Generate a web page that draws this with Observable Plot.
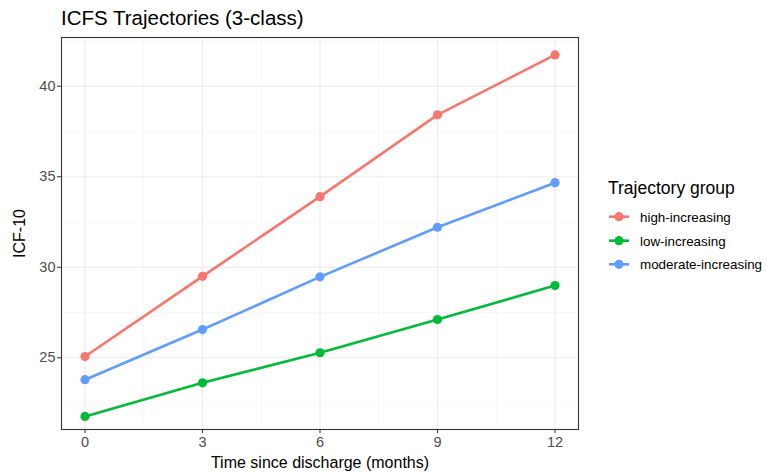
<!DOCTYPE html>
<html><head><meta charset="utf-8">
<script src="https://cdn.jsdelivr.net/npm/d3@7"></script>
<script src="https://cdn.jsdelivr.net/npm/@observablehq/plot@0.6"></script>
<style>
body{margin:0;background:#fff;font-family:"Liberation Sans",Arial,sans-serif;}
#wrap{position:relative;width:766px;height:473px;overflow:hidden;}
#title{position:absolute;left:61px;top:8px;font-size:20.5px;line-height:1;color:#000;white-space:nowrap;}
#legend{position:absolute;left:600px;top:170px;}
</style></head>
<body><div id="wrap"><div id="title">ICFS Trajectories (3-class)</div></div>
<script>
const months = [0, 3, 6, 9, 12];
const groups = ["high-increasing", "low-increasing", "moderate-increasing"];
const colors = ["#F8766D", "#00BA38", "#619CFF"];
const highIncreasing = [25.07, 29.50, 33.90, 38.42, 41.73];
const lowIncreasing = [21.76, 23.62, 25.28, 27.11, 28.99];
const moderateIncreasing = [23.79, 26.56, 29.47, 32.21, 34.67];
const xTicks = [0, 3, 6, 9, 12];
const yTicks = [25, 30, 35, 40];
const xMinor = [1.5, 4.5, 7.5, 10.5];
const yMinor = [22.5, 27.5, 32.5, 37.5, 42.5];

const series = [highIncreasing, lowIncreasing, moderateIncreasing];
const data = [];
groups.forEach((g, i) => months.forEach((m, j) => data.push({group: g, month: m, value: series[i][j]})));

const plot = Plot.plot({
  width: 766, height: 473,
  marginLeft: 61, marginRight: 188, marginTop: 37, marginBottom: 44,
  style: {fontFamily: '"Liberation Sans",Arial,sans-serif', background: "#fff"},
  x: {domain: [-0.6, 12.6], label: null},
  y: {domain: [21.04, 42.69], label: null},
  color: {domain: groups, range: colors},
  marks: [
    Plot.ruleX(xMinor, {stroke: "#F2F2F2", strokeWidth: 0.6}),
    Plot.ruleY(yMinor, {stroke: "#F2F2F2", strokeWidth: 0.6}),
    Plot.ruleX(xTicks, {stroke: "#EBEBEB", strokeWidth: 1.1}),
    Plot.ruleY(yTicks, {stroke: "#EBEBEB", strokeWidth: 1.1}),
    Plot.line(data, {x: "month", y: "value", z: "group", stroke: "group", strokeWidth: 2.6}),
    Plot.dot(data, {x: "month", y: "value", fill: "group", r: 4.6}),
    Plot.frame({stroke: "#333333", strokeWidth: 1.1}),
    Plot.axisX(xTicks, {tickSize: 4, stroke: "#333333", fill: "#4D4D4D", fontSize: 14.5, tickPadding: 3,
      label: "Time since discharge (months)", labelAnchor: "center", labelOffset: 38, labelArrow: "none"}),
    Plot.axisY(yTicks, {tickSize: 4, stroke: "#333333", fill: "#4D4D4D", fontSize: 14.5, tickPadding: 2,
      label: "ICF-10", labelAnchor: "center", labelOffset: 48, labelArrow: "none"})
  ]
});
document.getElementById("wrap").prepend(plot);
d3.select(plot).selectAll("[aria-label='x-axis label'] text, [aria-label='y-axis label'] text")
  .attr("fill", "#000").style("font-size", "16px");

const leg = d3.select("#wrap").append("svg").attr("id", "legend")
  .attr("width", 166).attr("height", 110)
  .style("font-family", '"Liberation Sans",Arial,sans-serif');
leg.append("text").attr("x", 8).attr("y", 24).attr("font-size", 17.5).attr("fill", "#000").text("Trajectory group");
const itemY = [46.7, 70.7, 94.3];
groups.forEach((g, i) => {
  const cy = itemY[i];
  leg.append("line").attr("x1", 9).attr("x2", 29).attr("y1", cy).attr("y2", cy).attr("stroke", colors[i]).attr("stroke-width", 2.6);
  leg.append("circle").attr("cx", 19).attr("cy", cy).attr("r", 4.6).attr("fill", colors[i]);
  leg.append("text").attr("x", 40).attr("y", cy + 5).attr("font-size", 13.4).attr("fill", "#000").text(g);
});
</script></body></html>
